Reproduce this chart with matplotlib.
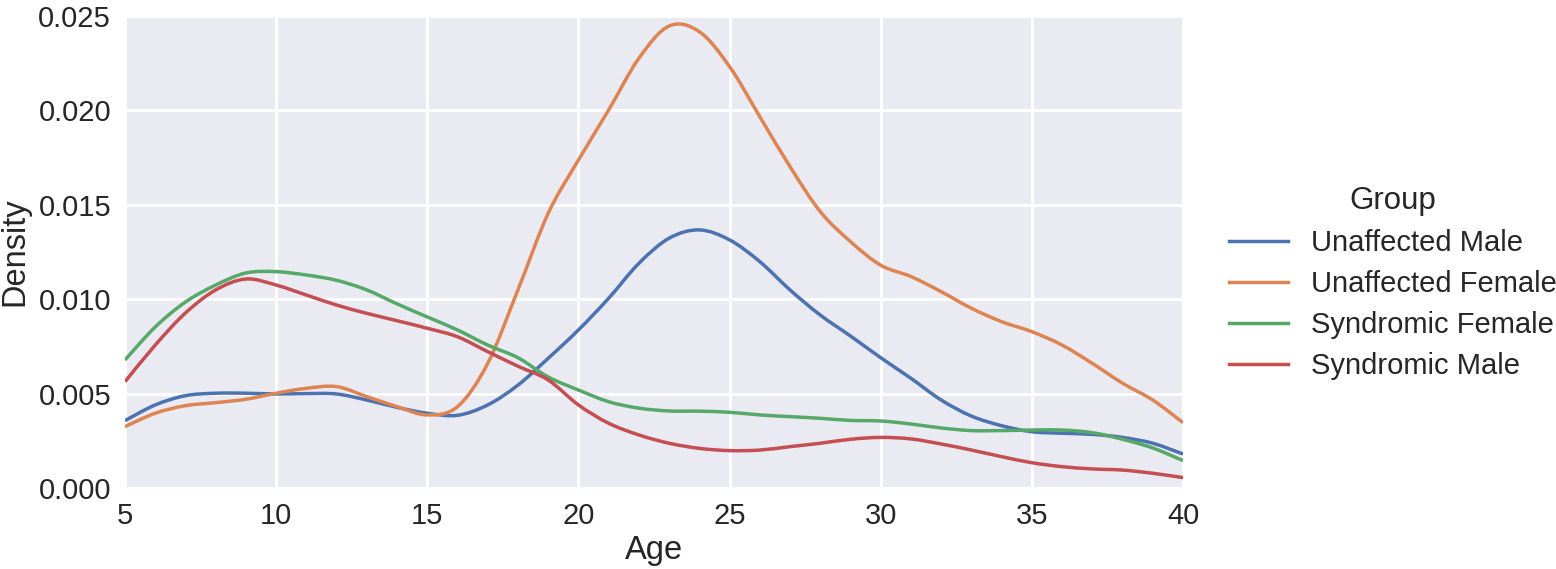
import matplotlib
matplotlib.use("Agg")
import matplotlib.pyplot as plt
from matplotlib.path import Path
from matplotlib.patches import PathPatch
from matplotlib.lines import Line2D
import numpy as np

ages = list(range(5, 41))

unaffected_male = [0.00357, 0.00440, 0.00489, 0.00502, 0.00502, 0.00498, 0.00500, 0.00498,
                   0.00466, 0.00427, 0.00396, 0.00385, 0.00440, 0.00545, 0.00687, 0.00837,
                   0.01005, 0.01190, 0.01323, 0.01367, 0.01314, 0.01199, 0.01049, 0.00916,
                   0.00805, 0.00690, 0.00581, 0.00466, 0.00381, 0.00330, 0.00298, 0.00290,
                   0.00284, 0.00268, 0.00237, 0.00180]
unaffected_female = [0.00325, 0.00396, 0.00436, 0.00452, 0.00470, 0.00502, 0.00528, 0.00537,
                     0.00484, 0.00431, 0.00387, 0.00431, 0.00660, 0.01050, 0.01455, 0.01737,
                     0.02002, 0.02276, 0.02447, 0.02417, 0.02232, 0.01967, 0.01702, 0.01464,
                     0.01305, 0.01180, 0.01120, 0.01040, 0.00952, 0.00881, 0.00828, 0.00757,
                     0.00660, 0.00555, 0.00466, 0.00346]
syndromic_female = [0.00678, 0.00853, 0.00985, 0.01075, 0.01139, 0.01146, 0.01128, 0.01100,
                    0.01049, 0.00975, 0.00906, 0.00837, 0.00757, 0.00690, 0.00588, 0.00519,
                    0.00457, 0.00423, 0.00408, 0.00407, 0.00401, 0.00387, 0.00378, 0.00369,
                    0.00358, 0.00355, 0.00339, 0.00318, 0.00304, 0.00304, 0.00307, 0.00307,
                    0.00293, 0.00258, 0.00212, 0.00145]
syndromic_male = [0.00563, 0.00757, 0.00927, 0.01049, 0.01107, 0.01075, 0.01022, 0.00969,
                  0.00925, 0.00886, 0.00846, 0.00801, 0.00722, 0.00645, 0.00572, 0.00440,
                  0.00343, 0.00281, 0.00237, 0.00210, 0.00198, 0.00201, 0.00219, 0.00237,
                  0.00258, 0.00268, 0.00260, 0.00233, 0.00201, 0.00166, 0.00134, 0.00113,
                  0.00101, 0.00095, 0.00078, 0.00055]

series = [
    ("Unaffected Male", unaffected_male, "#4C72B0"),
    ("Unaffected Female", unaffected_female, "#DD8452"),
    ("Syndromic Female", syndromic_female, "#55A868"),
    ("Syndromic Male", syndromic_male, "#C44E52"),
]

plt.rcParams['font.family'] = ['Liberation Sans', 'DejaVu Sans']
text_color = "#262626"
LW = 2.5


def smooth_path(xs, ys):
    """Catmull-Rom curve through the data points, drawn as cubic Bezier segments."""
    pts = np.column_stack([xs, ys]).astype(float)
    n = len(pts)
    verts = [pts[0]]
    codes = [Path.MOVETO]
    for i in range(n - 1):
        p0 = pts[max(i - 1, 0)]
        p1 = pts[i]
        p2 = pts[i + 1]
        p3 = pts[min(i + 2, n - 1)]
        c1 = p1 + (p2 - p0) / 6.0
        c2 = p2 - (p3 - p1) / 6.0
        verts += [c1, c2, p2]
        codes += [Path.CURVE4] * 3
    return Path(verts, codes)


W, H = 1556, 569
fig = plt.figure(figsize=(W / 100, H / 100), dpi=100)
ax = fig.add_axes([125 / W, 1 - 488 / H, (1183 - 125) / W, (488 - 16) / H])
ax.set_facecolor("#EAEAF2")
for s in ax.spines.values():
    s.set_visible(False)
ax.grid(True, color="white", linewidth=2.2)
ax.set_axisbelow(True)

handles = []
for name, vals, col in series:
    patch = PathPatch(smooth_path(ages, vals), facecolor="none", edgecolor=col,
                      linewidth=LW, capstyle="butt", joinstyle="round", zorder=3)
    ax.add_patch(patch)
    handles.append(Line2D([], [], color=col, linewidth=LW, label=name))

ax.set_xlim(5, 40)
ax.set_ylim(0, 0.025)
ax.set_xticks([5, 10, 15, 20, 25, 30, 35, 40])
ax.set_yticks([0.0, 0.005, 0.010, 0.015, 0.020, 0.025])
ax.set_yticklabels(["0.000", "0.005", "0.010", "0.015", "0.020", "0.025"])
ax.tick_params(axis="both", length=0, labelsize=21, colors=text_color, pad=10)
ax.set_xlabel("Age", fontsize=23.5, color=text_color, labelpad=4)
ax.set_ylabel("Density", fontsize=23.5, color=text_color, labelpad=6)

leg = fig.legend(handles=handles, title="Group", loc="center", frameon=False,
                 bbox_to_anchor=(1393 / W, 1 - 283 / H), fontsize=21,
                 title_fontsize=22.5, handlelength=2.0, labelspacing=0.45)
for t in leg.get_texts():
    t.set_color(text_color)
leg.get_title().set_color(text_color)

fig.savefig("out.png", dpi=100)
